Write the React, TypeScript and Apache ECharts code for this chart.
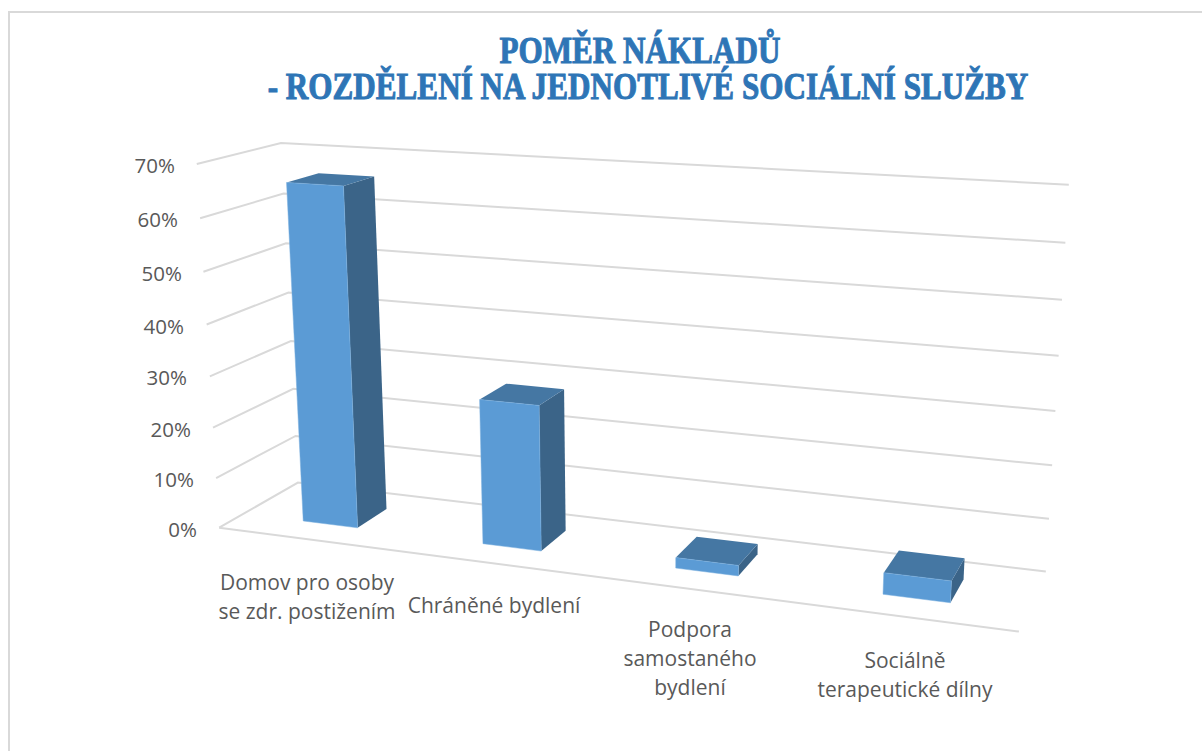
import React, { useEffect, useRef } from "react";
import * as echarts from "echarts";

const categories = ["Domov pro osoby\nse zdr. postižením", "Chráněné bydlení", "Podpora\nsamostaného\nbydlení", "Sociálně\nterapeutické dílny"];
const values = [66, 28, 2, 4];
const ticks = [0, 10, 20, 30, 40, 50, 60, 70];
const tickLabels = ["0%", "10%", "20%", "30%", "40%", "50%", "60%", "70%"];
const titleLine1 = "POMĚR NÁKLADŮ";
const titleLine2 = "- ROZDĚLENÍ NA JEDNOTLIVÉ SOCIÁLNÍ SLUŽBY";

// camera calibration: where the chart box's edges fall on the page (u, t, d -> x, y)
const calib: number[][] = [
  [0, 0, 0, 219, 528], [0, 1 / 7, 0, 216, 478], [0, 2 / 7, 0, 213, 428], [0, 3 / 7, 0, 210, 376],
  [0, 4 / 7, 0, 207, 325], [0, 5 / 7, 0, 203, 272], [0, 6 / 7, 0, 200, 218], [0, 1, 0, 197, 164],
  [1, 0, 1, 1046, 572], [1, 1 / 7, 1, 1049, 519], [1, 2 / 7, 1, 1052, 465], [1, 3 / 7, 1, 1055, 411],
  [1, 4 / 7, 1, 1059, 356], [1, 5 / 7, 1, 1062, 300], [1, 6 / 7, 1, 1065, 243], [1, 1, 1, 1069, 184],
  [0, 0, 1, 298, 482], [0, 1, 1, 281, 143], [1, 0, 0, 1019, 631],
];

function solve(A: number[][], b: number[]) {
  const n = b.length;
  const M = A.map((r, i) => [...r, b[i]]);
  for (let i = 0; i < n; i++) {
    let p = i;
    for (let k = i + 1; k < n; k++) if (Math.abs(M[k][i]) > Math.abs(M[p][i])) p = k;
    [M[i], M[p]] = [M[p], M[i]];
    for (let k = 0; k < n; k++) {
      if (k === i) continue;
      const f = M[k][i] / M[i][i];
      for (let j = i; j <= n; j++) M[k][j] -= f * M[i][j];
    }
  }
  return M.map((r, i) => r[n] / r[i]);
}

function fitCamera() {
  const rows: number[][] = [];
  const rhs: number[] = [];
  calib.forEach(([u, t, d, x, y]) => {
    const X = x / 1000, Y = y / 1000;
    rows.push([u, t, d, 1, 0, 0, 0, 0, -X * u, -X * t, -X * d]); rhs.push(X);
    rows.push([0, 0, 0, 0, u, t, d, 1, -Y * u, -Y * t, -Y * d]); rhs.push(Y);
  });
  const N = 11;
  const A = Array.from({ length: N }, (_, i) => Array.from({ length: N }, (_, j) => rows.reduce((s, r) => s + r[i] * r[j], 0)));
  const b = Array.from({ length: N }, (_, i) => rows.reduce((s, r, k) => s + r[i] * rhs[k], 0));
  return solve(A, b);
}
const cam = fitCamera();
function project(u: number, t: number, d: number): number[] {
  const w = cam[8] * u + cam[9] * t + cam[10] * d + 1;
  return [
    (1000 * (cam[0] * u + cam[1] * t + cam[2] * d + cam[3])) / w,
    (1000 * (cam[4] * u + cam[5] * t + cam[6] * d + cam[7])) / w,
  ];
}

const G = { left: 300, top: 140, width: 760, height: 420 };
const toU = (px: number) => (px - G.left) / G.width;
const toT = (py: number) => (G.top + G.height - py) / G.height;

const BAR_W = 0.31; // share of the band
const D0 = 0.3, D1 = 0.7;
const GRID_COLOR = "#D9D9D9";
const TEXT_COLOR = "#595959";
const FONT = "'Open Sans', sans-serif";
const labelAnchors = [[307, 596], [494, 605], [690, 658], [905, 674]];
const tickLabelRight = [197, 194, 191, 187, 184, 182, 178, 175];
const titleStyle = {
  fill: "#2E75B6", stroke: "#2E75B6", lineWidth: 1,
  font: "bold 38px 'Liberation Serif', serif", align: "center", verticalAlign: "middle",
};
const TITLE_SCALE = 0.82;

export default function App() {
  const ref = useRef<HTMLDivElement>(null);
  useEffect(() => {
    const chart = echarts.init(ref.current!, undefined, { renderer: "svg" });
    const renderGrid = (params: any, api: any) => {
      const v = api.value(0);
      const t = toT(api.coord([0, v])[1]);
      const a = project(0, t, 0), b = project(0, t, 1), c = project(1, t, 1);
      const lineStyle = { stroke: GRID_COLOR, lineWidth: 2, fill: "none" };
      const children: any[] = [
        { type: "polyline", shape: { points: [a, b, c] }, style: lineStyle },
        {
          type: "text",
          style: {
            x: tickLabelRight[params.dataIndex], y: a[1] + 1, text: tickLabels[params.dataIndex],
            fill: TEXT_COLOR, font: `20.5px ${FONT}`, align: "right", verticalAlign: "middle",
          },
        },
      ];
      if (v === 0) {
        children.push({ type: "polyline", shape: { points: [a, project(1, 0, 0)] }, style: lineStyle });
      }
      return { type: "group", children };
    };
    const renderBar = (params: any, api: any) => {
      const i = api.value(0);
      const center = api.coord([i, 0]);
      const top = api.coord([i, api.value(1)]);
      const bw = api.size([1, 0])[0] * BAR_W;
      const u0 = toU(center[0] - bw / 2), u1 = toU(center[0] + bw / 2);
      const t0 = toT(center[1]), t1 = toT(top[1]);
      const P = (u: number, t: number, d: number) => project(u, t, d);
      return {
        type: "group",
        children: [
          { type: "polygon", shape: { points: [P(u1, t0, D0), P(u1, t0, D1), P(u1, t1, D1), P(u1, t1, D0)] }, style: { fill: "#3B6488" } },
          { type: "polygon", shape: { points: [P(u0, t1, D0), P(u1, t1, D0), P(u1, t1, D1), P(u0, t1, D1)] }, style: { fill: "#4577A3" } },
          { type: "polygon", shape: { points: [P(u0, t0, D0), P(u1, t0, D0), P(u1, t1, D0), P(u0, t1, D0)] }, style: { fill: "#5B9BD5", stroke: "#79AEDF", lineWidth: 0.5 } },
        ],
      };
    };
    const renderCat = (params: any, api: any) => {
      const i = api.value(0);
      return {
        type: "text",
        style: {
          x: labelAnchors[i][0], y: labelAnchors[i][1], text: categories[i],
          fill: TEXT_COLOR, font: `21px ${FONT}`, align: "center", verticalAlign: "middle", lineHeight: 29,
        },
      };
    };
    chart.setOption({
      animation: false,
      backgroundColor: "#fff",
      grid: { ...G },
      xAxis: { type: "category", data: categories, show: false },
      yAxis: { type: "value", min: 0, max: 70, interval: 10, show: false },
      graphic: [
        { type: "line", shape: { x1: 8, y1: 12, x2: 1202, y2: 12 }, style: { stroke: "#D9D9D9", lineWidth: 2 } },
        { type: "line", shape: { x1: 9, y1: 11, x2: 9, y2: 751 }, style: { stroke: "#D9D9D9", lineWidth: 2 } },
        { type: "text", x: 640, y: 50, scaleX: TITLE_SCALE, style: { ...titleStyle, text: titleLine1 } },
        { type: "text", x: 648, y: 86, scaleX: TITLE_SCALE, style: { ...titleStyle, text: titleLine2 } },
      ],
      series: [
        { type: "custom", renderItem: renderGrid, data: ticks.map((v) => [v]), encode: { y: 0 }, clip: false, silent: true, z: 1 },
        { type: "custom", renderItem: renderBar, data: values.map((v, i) => [i, v]), encode: { x: 0, y: 1 }, clip: false, z: 2 },
        { type: "custom", renderItem: renderCat, data: categories.map((_, i) => [i]), encode: { x: 0 }, clip: false, silent: true, z: 3 },
      ],
    });
    return () => chart.dispose();
  }, []);
  return <div ref={ref} style={{ position: "fixed", left: 0, top: 0, width: 1202, height: 751 }} />;
}
